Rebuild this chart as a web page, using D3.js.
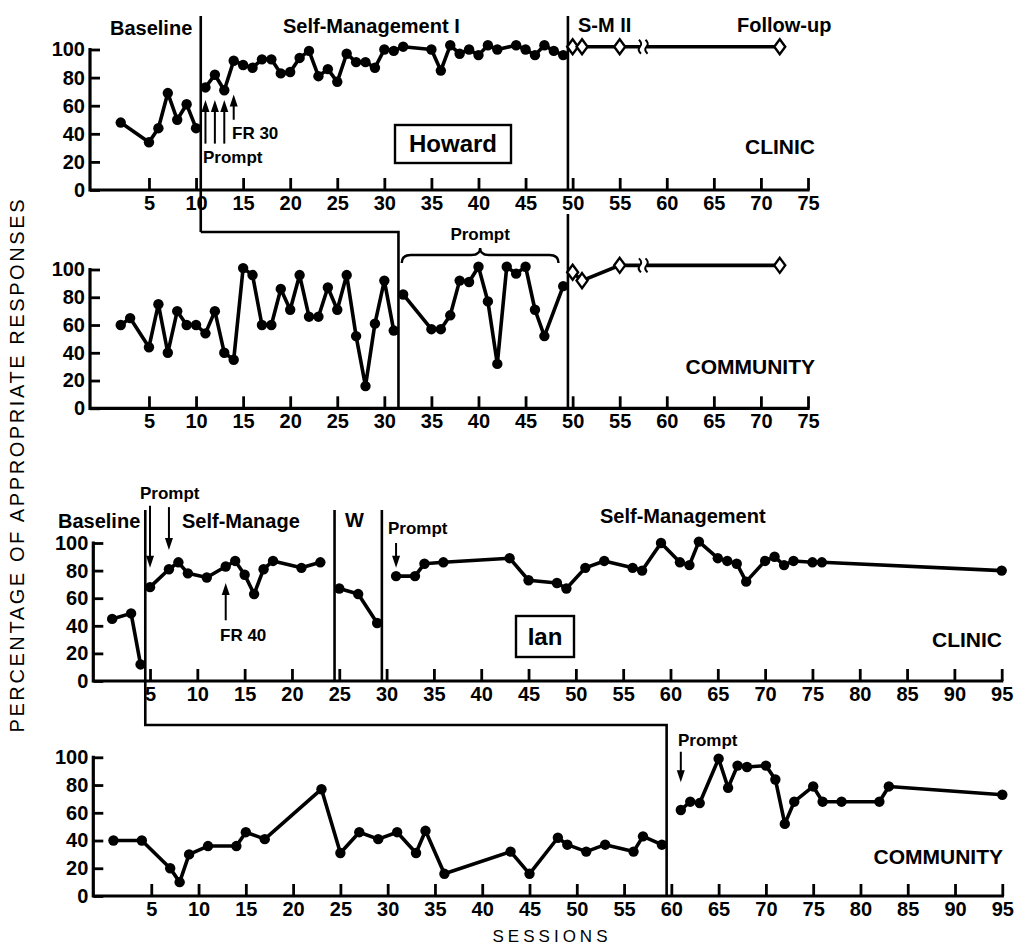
<!DOCTYPE html>
<html>
<head>
<meta charset="utf-8">
<script src="https://cdn.jsdelivr.net/npm/d3@7"></script>
<style>
  body { margin: 0; background: #fff; }
  svg { display: block; }
  text { font-family: "Liberation Sans", Arial, Helvetica, sans-serif; fill: #000; }
</style>
</head>
<body>
<svg id="chart" width="1016" height="948"></svg>
<script>
// ---------- Howard, clinic ----------
const howardClinicBaselineSessions = [2, 5, 6, 7, 8, 9, 10];
const howardClinicBaselineValues   = [48, 34, 44, 69, 50, 61, 44];
const howardClinicSM1Sessions = [11, 12, 13, 14, 15, 16, 17, 18, 19, 20, 21, 22, 23, 24, 25, 26, 27, 28, 29, 30, 31, 32,
                                 35, 36, 37, 38, 39, 40, 41, 42, 44, 45, 46, 47, 48, 49];
const howardClinicSM1Values   = [73, 82, 71, 92, 89, 87, 93, 93, 83, 84, 94, 99, 81, 86, 77, 97, 91, 91, 87, 100, 99, 102,
                                 100, 85, 103, 97, 100, 96, 103, 100, 103, 100, 96, 103, 99, 96];
const howardClinicFollowSessions = [50, 51, 55, 72];
const howardClinicFollowValues   = [102, 102, 102, 102];

// ---------- Howard, community ----------
const howardCommBaselineSessions = [2, 3, 5, 6, 7, 8, 9, 10, 11, 12, 13, 14, 15, 16, 17, 18, 19, 20, 21, 22, 23, 24, 25, 26, 27, 28, 29, 30, 31];
const howardCommBaselineValues   = [60, 65, 44, 75, 40, 70, 60, 60, 54, 70, 40, 35, 101, 96, 60, 60, 86, 71, 96, 66, 66, 87, 71, 96, 52, 16, 61, 92, 56];
const howardCommPromptSessions = [32, 35, 36, 37, 38, 39, 40, 41, 42, 43, 44, 45, 46, 47, 49];
const howardCommPromptValues   = [82, 57, 57, 67, 92, 91, 102, 77, 32, 102, 97, 102, 71, 52, 88];
const howardCommFollowSessions = [50, 51, 55, 72];
const howardCommFollowValues   = [98, 92, 103, 103];

// ---------- Ian, clinic ----------
const ianClinicBaselineSessions = [1, 3, 4];
const ianClinicBaselineValues   = [45, 49, 12];
const ianClinicSMSessions = [5, 7, 8, 9, 11, 13, 14, 15, 16, 17, 18, 21, 23];
const ianClinicSMValues   = [68, 81, 86, 78, 75, 83, 87, 77, 63, 81, 87, 82, 86];
const ianClinicWSessions = [25, 27, 29];
const ianClinicWValues   = [67, 63, 42];
const ianClinicSM2Sessions = [31, 33, 34, 36, 43, 45, 48, 49, 51, 53, 56, 57, 59, 61, 62, 63, 65, 66, 67, 68, 70, 71, 72, 73, 75, 76, 95];
const ianClinicSM2Values   = [76, 76, 85, 86, 89, 73, 71, 67, 82, 87, 82, 80, 100, 86, 84, 101, 89, 87, 85, 72, 87, 90, 84, 87, 86, 86, 80];

// ---------- Ian, community ----------
const ianCommBaselineSessions = [1, 4, 7, 8, 9, 11, 14, 15, 17, 23, 25, 27, 29, 31, 33, 34, 36, 43, 45, 48, 49, 51, 53, 56, 57, 59];
const ianCommBaselineValues   = [40, 40, 20, 10, 30, 36, 36, 46, 41, 77, 31, 46, 41, 46, 31, 47, 16, 32, 16, 42, 37, 32, 37, 32, 43, 37];
const ianCommSMSessions = [61, 62, 63, 65, 66, 67, 68, 70, 71, 72, 73, 75, 76, 78, 82, 83, 95];
const ianCommSMValues   = [62, 68, 67, 99, 78, 94, 93, 94, 84, 52, 68, 79, 68, 68, 68, 79, 73];

// ---------- ticks ----------
const yTickValues = [0, 20, 40, 60, 80, 100];
const xTicksHoward = [5, 10, 15, 20, 25, 30, 35, 40, 45, 50, 55, 60, 65, 70, 75];
const xTicksIan = [5, 10, 15, 20, 25, 30, 35, 40, 45, 50, 55, 60, 65, 70, 75, 80, 85, 90, 95];

// phase changes (session boundaries)
const howardClinicPhases = [10.5, 49.5];
const howardCommPhases = [31.5, 49.5];
const ianClinicPhases = [4.5, 24.5, 29.5];
const ianCommPhases = [59.5];
const followBreakAt = 57.5;

const zip = (s, v) => s.map((d, i) => [d, v[i]]);

const svg = d3.select("#chart");

// ---------- panel scales ----------
function makePanel(xDomain, xRange, axisLeft, yRange, ticks) {
  return {
    x: d3.scaleLinear().domain(xDomain).range(xRange),
    y: d3.scaleLinear().domain([0, 100]).range(yRange),
    axisLeft, ticks
  };
}
const P1 = makePanel([0, 75], [101.9, 808], 90, [190, 49.5], xTicksHoward);
const P2 = makePanel([0, 75], [101.9, 808], 90, [408.3, 269.5], xTicksHoward);
const P3 = makePanel([0, 95], [102.7, 1001.7], 93.3, [681, 543], xTicksIan);
const P4 = makePanel([0, 95], [104, 1002.3], 93.3, [896, 757.3], xTicksIan);

function drawAxes(p) {
  const g = svg.append("g");
  const xAxis = d3.axisBottom(p.x).tickValues(p.ticks).tickSize(-12).tickPadding(6).tickSizeOuter(0);
  const gx = g.append("g").attr("transform", `translate(0,${p.y(0)})`).call(xAxis);
  gx.select(".domain").remove();
  gx.selectAll(".tick line").attr("stroke", "#000").attr("stroke-width", 2.8);
  gx.selectAll(".tick text").attr("font-size", 20).attr("font-weight", "bold").attr("fill", "#000");

  const yAxis = d3.axisLeft(p.y).tickValues(yTickValues).tickSize(-10).tickPadding(5).tickSizeOuter(0);
  const gy = g.append("g").attr("transform", `translate(${p.axisLeft},0)`).call(yAxis);
  gy.select(".domain").remove();
  gy.selectAll(".tick line").attr("stroke", "#000").attr("stroke-width", 2.8);
  gy.selectAll(".tick text").attr("font-size", 20).attr("font-weight", "bold").attr("fill", "#000");

  // axis frame lines
  g.append("path")
    .attr("d", `M${p.axisLeft},${p.y(100)} L${p.axisLeft},${p.y(0)} L${p.x.range()[1]},${p.y(0)}`)
    .attr("fill", "none").attr("stroke", "#000").attr("stroke-width", 3.2)
    .attr("stroke-linejoin", "miter").attr("stroke-linecap", "square");
}

function drawSeries(p, pts) {
  const line = d3.line().x(d => p.x(d[0])).y(d => p.y(d[1]));
  svg.append("path").attr("d", line(pts))
    .attr("fill", "none").attr("stroke", "#000").attr("stroke-width", 3.6).attr("stroke-linejoin", "round");
  svg.append("g").selectAll("circle").data(pts).join("circle")
    .attr("cx", d => p.x(d[0])).attr("cy", d => p.y(d[1])).attr("r", 5.2).attr("fill", "#000");
}

function drawFollowUp(p, pts) {
  const line = d3.line().x(d => p.x(d[0])).y(d => p.y(d[1]));
  const before = pts.filter(d => d[0] < followBreakAt);
  const after = pts.filter(d => d[0] > followBreakAt);
  const lastB = before[before.length - 1], firstA = after[0];
  const b1 = followBreakAt - 0.35, b2 = followBreakAt + 0.35;
  const lerp = (xv) => lastB[1] + (firstA[1] - lastB[1]) * (xv - lastB[0]) / (firstA[0] - lastB[0]);
  const seg1 = before.concat([[b1, lerp(b1)]]);
  const seg2 = [[b2, lerp(b2)]].concat(after);
  [seg1, seg2].forEach(s => svg.append("path").attr("d", line(s))
    .attr("fill", "none").attr("stroke", "#000").attr("stroke-width", 3.6));
  // break squiggles
  [b1, b2].forEach(b => {
    const cx = p.x(b), cy = p.y(lerp(b));
    svg.append("path")
      .attr("d", `M${cx - 1},${cy - 7} Q${cx + 3},${cy - 3} ${cx},${cy} Q${cx - 3},${cy + 3} ${cx + 1},${cy + 7}`)
      .attr("fill", "none").attr("stroke", "#000").attr("stroke-width", 2);
  });
  svg.append("g").selectAll("path").data(pts).join("path")
    .attr("transform", d => `translate(${p.x(d[0])},${p.y(d[1])})`)
    .attr("d", "M0,-7.5 L5.5,0 L0,7.5 L-5.5,0 Z")
    .attr("fill", "#fff").attr("stroke", "#000").attr("stroke-width", 2.4);
}

function vline(x, y1, y2, w = 2.6) {
  svg.append("line").attr("x1", x).attr("x2", x).attr("y1", y1).attr("y2", y2)
    .attr("stroke", "#000").attr("stroke-width", w);
}
function pathLine(d, w = 2.6) {
  svg.append("path").attr("d", d).attr("fill", "none").attr("stroke", "#000").attr("stroke-width", w);
}
function arrow(x, yTail, yTip) {
  const dir = yTip < yTail ? 1 : -1; // 1 = pointing up
  svg.append("line").attr("x1", x).attr("x2", x).attr("y1", yTail).attr("y2", yTip + dir * 8)
    .attr("stroke", "#000").attr("stroke-width", 2);
  svg.append("path")
    .attr("d", `M${x},${yTip} L${x - 4},${yTip + dir * 12} L${x + 4},${yTip + dir * 12} Z`)
    .attr("fill", "#000");
}
function label(txt, x, y, size, opts = {}) {
  const t = svg.append("text").attr("x", x).attr("y", y).attr("font-size", size)
    .attr("font-weight", opts.weight || "bold").attr("text-anchor", opts.anchor || "start").text(txt);
  if (opts.len) t.attr("textLength", opts.len).attr("lengthAdjust", "spacing");
  if (opts.transform) t.attr("transform", opts.transform);
  return t;
}

// ---------- axes ----------
[P1, P2, P3, P4].forEach(drawAxes);

// ---------- phase lines ----------
// Howard
vline(P1.x(howardClinicPhases[0]), 16, 232);
pathLine(`M${P1.x(howardClinicPhases[0])},232 L${P2.x(howardCommPhases[0])},232 L${P2.x(howardCommPhases[0])},${P2.y(0)}`);
vline(P1.x(howardClinicPhases[1]), 16, P1.y(0));
vline(P2.x(howardCommPhases[1]), 214, P2.y(0));
// Ian
pathLine(`M${P3.x(ianClinicPhases[0])},510 L${P3.x(ianClinicPhases[0])},725 L${P4.x(ianCommPhases[0])},725 L${P4.x(ianCommPhases[0])},${P4.y(0)}`);
vline(P3.x(ianClinicPhases[1]), 510, P3.y(0));
vline(P3.x(ianClinicPhases[2]), 510, P3.y(0));

// ---------- data ----------
drawSeries(P1, zip(howardClinicBaselineSessions, howardClinicBaselineValues));
drawSeries(P1, zip(howardClinicSM1Sessions, howardClinicSM1Values));
drawFollowUp(P1, zip(howardClinicFollowSessions, howardClinicFollowValues));

drawSeries(P2, zip(howardCommBaselineSessions, howardCommBaselineValues));
drawSeries(P2, zip(howardCommPromptSessions, howardCommPromptValues));
drawFollowUp(P2, zip(howardCommFollowSessions, howardCommFollowValues));

drawSeries(P3, zip(ianClinicBaselineSessions, ianClinicBaselineValues));
drawSeries(P3, zip(ianClinicSMSessions, ianClinicSMValues));
drawSeries(P3, zip(ianClinicWSessions, ianClinicWValues));
drawSeries(P3, zip(ianClinicSM2Sessions, ianClinicSM2Values));

drawSeries(P4, zip(ianCommBaselineSessions, ianCommBaselineValues));
drawSeries(P4, zip(ianCommSMSessions, ianCommSMValues));

// ---------- phase titles ----------
label("Baseline", 110, 35, 20);
label("Self-Management I", 283, 33, 20);
label("S-M II", 578, 32, 20);
label("Follow-up", 737, 32, 20);

label("Baseline", 58, 528, 20);
label("Self-Manage", 182, 528, 20);
label("W", 345, 527, 20);
label("Self-Management", 600, 523, 20);

// ---------- annotations: Howard ----------
[11, 12, 13].forEach(s => arrow(P1.x(s), P1.y(33), P1.y(64)));
arrow(P1.x(14), P1.y(50), P1.y(68));
label("FR 30", 232, 139, 17);
label("Prompt", 203, 163, 17);

svg.append("rect").attr("x", 395).attr("y", 125).attr("width", 116).attr("height", 38)
  .attr("fill", "#fff").attr("stroke", "#000").attr("stroke-width", 2.4);
label("Howard", 453, 152, 24, { anchor: "middle" });
label("CLINIC", 815, 154, 21, { anchor: "end" });
label("COMMUNITY", 815, 374, 21, { anchor: "end" });

// brace over the prompt sessions
{
  const xa = P2.x(31.85), xb = P2.x(48.5), xm = (xa + xb) / 2;
  pathLine(`M${xa},263 Q${xa},255 ${xa + 9},255 L${xm - 9},255 Q${xm},255 ${xm},248 ` +
           `Q${xm},255 ${xm + 9},255 L${xb - 9},255 Q${xb},255 ${xb},263`, 2.4);
  label("Prompt", xm, 240, 17, { anchor: "middle" });
}

// ---------- annotations: Ian ----------
label("Prompt", 140, 499, 17);
arrow(P3.x(5), P3.y(127), P3.y(82));
arrow(P3.x(7), P3.y(126), P3.y(95));
label("Prompt", 388, 534, 17);
arrow(P3.x(31), P3.y(100), P3.y(82));
arrow(P3.x(13), P3.y(44), P3.y(71));
label("FR 40", 220, 641, 17);

svg.append("rect").attr("x", 516).attr("y", 616).attr("width", 58).attr("height", 41)
  .attr("fill", "#fff").attr("stroke", "#000").attr("stroke-width", 2.4);
label("Ian", 545, 645, 24, { anchor: "middle" });
label("CLINIC", 1002, 647, 21, { anchor: "end" });

label("Prompt", 678, 746, 17);
arrow(P4.x(61), P4.y(104), P4.y(82));
label("COMMUNITY", 1003, 864, 21, { anchor: "end" });

// ---------- axis titles ----------
label("SESSIONS", 550, 942, 17, { anchor: "middle", weight: "normal", len: 115 });
label("PERCENTAGE OF APPROPRIATE RESPONSES", 0, 0, 20,
  { anchor: "middle", weight: "normal", len: 533, transform: "translate(24,466) rotate(-90)" });
</script>
</body>
</html>
